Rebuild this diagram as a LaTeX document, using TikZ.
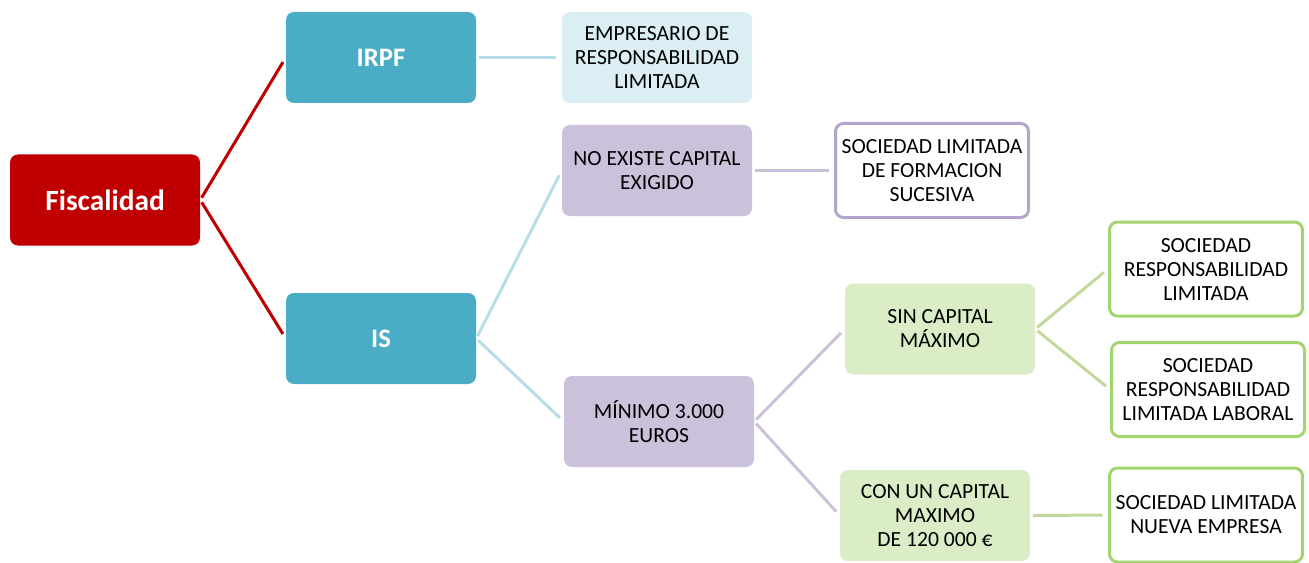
\documentclass[tikz,border=0pt]{standalone}
\usepackage{fontspec}
\setmainfont{Carlito}
\usetikzlibrary{positioning}
\usepackage{xcolor}
\definecolor{brick}{RGB}{192,0,0}
\definecolor{sea}{RGB}{75,172,198}
\definecolor{sky}{RGB}{218,238,243}
\definecolor{skyline}{RGB}{183,222,232}
\definecolor{lilac}{RGB}{204,193,218}
\definecolor{lilacline}{RGB}{180,165,202}
\definecolor{mint}{RGB}{218,237,198}
\definecolor{mintedge}{RGB}{163,212,112}
\definecolor{mintline}{RGB}{195,216,155}

\tikzset{
  box/.style={rounded corners=6pt, minimum width=142.5pt, minimum height=68.25pt,
    align=center, inner sep=0pt, font=\fontsize{16.2}{18}\selectfont},
  headbox/.style={box, text=white, font=\fontsize{20}{24}\selectfont\bfseries},
  openbox/.style={box, fill=white, line width=2.25pt, minimum width=144.75pt,
    minimum height=70.5pt},
  link/.style={line width=2.25pt, shorten <=2pt, shorten >=4pt}
}

\begin{document}
\begin{tikzpicture}[x=0.75pt,y=-0.75pt]
\useasboundingbox (0,0) rectangle (1309,563);
% first level
\node[headbox, fill=brick, font=\fontsize{22}{26}\selectfont\bfseries] (fisc) at (105,200) {Fiscalidad};
\node[headbox, fill=sea] (irpf) at (381,57.5) {IRPF};
\node[headbox, fill=sea] (is) at (381,338.5) {IS};
% second level
\node[box, fill=sky] (emp) at (657,57.5) {EMPRESARIO DE\\RESPONSABILIDAD\\LIMITADA};
\node[box, fill=lilac] (noex) at (657,170.5) {NO EXISTE CAPITAL\\EXIGIDO};
\node[box, fill=lilac] (mini) at (659,421.5) {MÍNIMO 3.000\\EUROS};
% third level
\node[openbox, draw=lilacline] (socf) at (932,170.5) {SOCIEDAD LIMITADA\\DE FORMACION\\SUCESIVA};
\node[box, fill=mint] (sinc) at (940,329) {SIN CAPITAL\\MÁXIMO};
\node[box, fill=mint] (conu) at (935,515.5) {CON UN CAPITAL\\MAXIMO\\DE 120 000 €};
% last level
\node[openbox, draw=mintedge] (srl) at (1206,269) {SOCIEDAD\\RESPONSABILIDAD\\LIMITADA};
\node[openbox, draw=mintedge] (srll) at (1208,389.5) {SOCIEDAD\\RESPONSABILIDAD\\LIMITADA LABORAL};
\node[openbox, draw=mintedge] (slne) at (1206,515) {SOCIEDAD LIMITADA\\NUEVA EMPRESA};
% connectors
\draw[link, brick] (fisc.east)--(irpf.west);
\draw[link, brick] (fisc.east)--(is.west);
\draw[link, skyline] (irpf.east)--(emp.west);
\draw[link, skyline] (is.east)--(noex.west);
\draw[link, skyline] (is.east)--(mini.west);
\draw[link, lilac] (noex.east)--(socf.west);
\draw[link, lilac] (mini.east)--(sinc.west);
\draw[link, lilac] (mini.east)--(conu.west);
\draw[link, mintline] (sinc.east)--(srl.west);
\draw[link, mintline] (sinc.east)--(srll.west);
\draw[link, mintline] (conu.east)--(slne.west);
\end{tikzpicture}
\end{document}
